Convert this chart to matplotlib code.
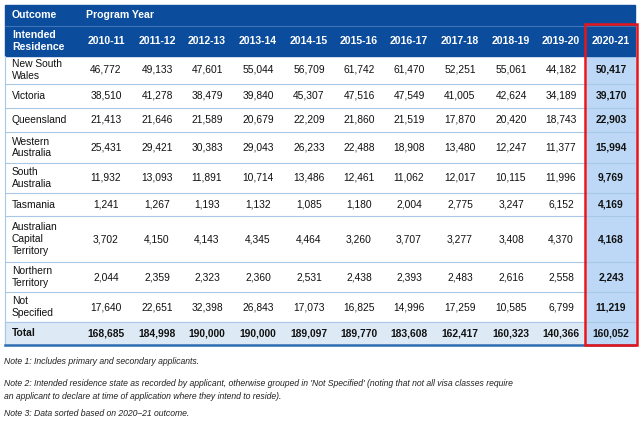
import matplotlib.pyplot as plt
from matplotlib.patches import Rectangle

plt.rcParams['font.family'] = ['Liberation Sans', 'DejaVu Sans']

# table contents
years = ['2010-11', '2011-12', '2012-13', '2013-14', '2014-15', '2015-16',
         '2016-17', '2017-18', '2018-19', '2019-20', '2020-21']
states = ['New South\nWales', 'Victoria', 'Queensland', 'Western\nAustralia',
          'South\nAustralia', 'Tasmania', 'Australian\nCapital\nTerritory',
          'Northern\nTerritory', 'Not\nSpecified']
values = [
    [46772, 49133, 47601, 55044, 56709, 61742, 61470, 52251, 55061, 44182, 50417],
    [38510, 41278, 38479, 39840, 45307, 47516, 47549, 41005, 42624, 34189, 39170],
    [21413, 21646, 21589, 20679, 22209, 21860, 21519, 17870, 20420, 18743, 22903],
    [25431, 29421, 30383, 29043, 26233, 22488, 18908, 13480, 12247, 11377, 15994],
    [11932, 13093, 11891, 10714, 13486, 12461, 11062, 12017, 10115, 11996, 9769],
    [1241, 1267, 1193, 1132, 1085, 1180, 2004, 2775, 3247, 6152, 4169],
    [3702, 4150, 4143, 4345, 4464, 3260, 3707, 3277, 3408, 4370, 4168],
    [2044, 2359, 2323, 2360, 2531, 2438, 2393, 2483, 2616, 2558, 2243],
    [17640, 22651, 32398, 26843, 17073, 16825, 14996, 17259, 10585, 6799, 11219],
]
totals = [168685, 184998, 190000, 190000, 189097, 189770, 183608, 162417,
          160323, 140366, 160052]
notes = [
    "Note 1: Includes primary and secondary applicants.",
    "Note 2: Intended residence state as recorded by applicant, otherwise grouped in "
    "'Not Specified' (noting that not all visa classes require\nan applicant to declare "
    "at time of application where they intend to reside).",
    "Note 3: Data sorted based on 2020\u201321 outcome.",
]

# layout in pixels
left, right = 5, 635
row_edges = [5, 26, 56, 84, 108, 132, 163, 193, 216, 262, 292, 322, 345]
col_x = [106, 157, 207, 258, 309, 359, 409, 460, 511, 561, 611]
col_w = 50.6
navy = '#0b4c9c'
line_c = '#a9c8e8'
txt = '#111111'
hfs, bfs = 7.6, 7.4

fig = plt.figure(figsize=(6.41, 4.23), dpi=100)
ax = fig.add_axes([0, 0, 1, 1])
ax.set_xlim(0, 641)
ax.set_ylim(423, 0)
ax.axis('off')

# header
ax.add_patch(Rectangle((left, row_edges[0]), right - left, row_edges[2] - row_edges[0],
                       color=navy, zorder=1))
ax.plot([left, right], [row_edges[1], row_edges[1]], color='#3d72b8', lw=0.8, zorder=2)
ax.text(12, (row_edges[0] + row_edges[1]) / 2, 'Outcome', color='white',
        fontsize=hfs, fontweight='bold', va='center')
ax.text(86, (row_edges[0] + row_edges[1]) / 2, 'Program Year', color='white',
        fontsize=hfs, fontweight='bold', va='center')
ax.text(12, (row_edges[1] + row_edges[2]) / 2, 'Intended\nResidence', color='white',
        fontsize=hfs, fontweight='bold', va='center', linespacing=1.15)
for x, yr in zip(col_x, years):
    ax.text(x, (row_edges[1] + row_edges[2]) / 2, yr, color='white', fontsize=hfs,
            fontweight='bold', va='center', ha='center')

# total row background and highlighted column
ax.add_patch(Rectangle((left, row_edges[-2]), right - left, row_edges[-1] - row_edges[-2],
                       color='#ddeaf6', zorder=0))
ax.add_patch(Rectangle((col_x[-1] - col_w / 2 + 1, row_edges[2]), col_w - 1,
                       row_edges[-1] - row_edges[2], color='#bcd8f6', zorder=0))

# body rows
for i, (name, row) in enumerate(zip(states, values)):
    yc = (row_edges[i + 2] + row_edges[i + 3]) / 2
    ax.text(12, yc, name, fontsize=bfs, va='center', linespacing=1.2, color=txt)
    for j, (x, v) in enumerate(zip(col_x, row)):
        ax.text(x, yc, f'{v:,}', fontsize=bfs, va='center', ha='center', color=txt,
                fontweight='bold' if j == len(row) - 1 else 'normal')
    ax.plot([left, right], [row_edges[i + 3], row_edges[i + 3]], color=line_c, lw=0.8, zorder=2)

yc = (row_edges[-2] + row_edges[-1]) / 2
ax.text(12, yc, 'Total', fontsize=bfs, va='center', fontweight='bold', color=txt)
for x, v in zip(col_x, totals):
    ax.text(x, yc, f'{v:,}', fontsize=bfs, va='center', ha='center', fontweight='bold',
            color=txt)

ax.plot([left, left], [row_edges[2], row_edges[-1]], color=line_c, lw=0.8, zorder=2)
ax.plot([left, right], [row_edges[-1], row_edges[-1]], color='#2f6db3', lw=1.8, zorder=2)

# red box around 2020-21
ax.add_patch(Rectangle((585, 24), 52, 321, fill=False, edgecolor='#e8161b', lw=1.8, zorder=3))

# notes
for y, note in zip([362, 390, 413], notes):
    ax.text(4, y, note, fontsize=6.2, style='italic', va='center', color='#222222',
            linespacing=1.6)

fig.savefig('out.png', dpi=100)
